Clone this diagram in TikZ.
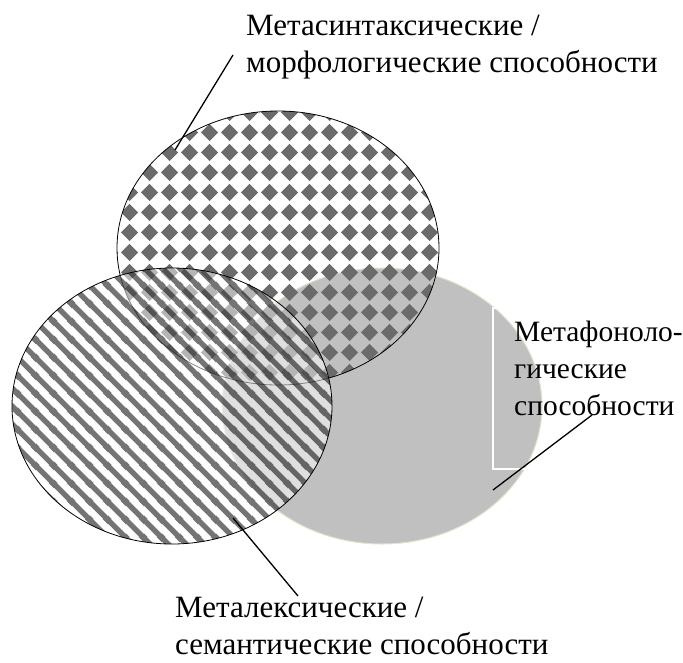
\documentclass[tikz,border=0pt]{standalone}
\usepackage{fontspec}
\setmainfont{Liberation Serif}
\usetikzlibrary{patterns.meta}

\definecolor{ovalgray}{HTML}{C0C0C0}
\definecolor{rimbeige}{HTML}{E6E2CE}
\definecolor{dotgray}{HTML}{6B6B6B}
\definecolor{stripegray}{HTML}{747474}

\tikzdeclarepattern{
  name=diamondgrid, type=uncolored,
  bounding box={(0pt,0pt) and (20pt,20pt)},
  tile size={(20pt,20pt)},
  code={\fill (10pt,1pt) -- (19pt,10pt) -- (10pt,19pt) -- (1pt,10pt) -- cycle;}
}
\tikzdeclarepattern{
  name=slantstripes, type=uncolored,
  bounding box={(0pt,0pt) and (18pt,18pt)},
  tile size={(18pt,18pt)},
  code={
    \draw[line width=5.5pt] (-3pt,21pt) -- (21pt,-3pt);
    \draw[line width=5.5pt] (-3pt,3pt) -- (3pt,-3pt);
    \draw[line width=5.5pt] (15pt,21pt) -- (21pt,15pt);
  }
}

\begin{document}
\begin{tikzpicture}[
    x=1pt, y=-1pt,
    oval/.style={x radius=160, y radius=138},
    ovalline/.style={draw=black, line width=0.8pt},
    leader/.style={line width=1.3pt},
    labeltext/.style={font=\rmfamily\fontsize{31}{36.5}\selectfont, align=left, inner sep=0pt, anchor=north west}
]
\useasboundingbox (0,0) rectangle (683,662);

% centres of the three ovals
\coordinate (phonC) at (382,406);
\coordinate (syntC) at (278,248);
\coordinate (lexC) at (172,406);

% phonological oval (plain grey)
\filldraw[fill=ovalgray, draw=rimbeige, line width=1pt] (phonC) ellipse [oval];

% syntactic oval (diamonds)
\fill[pattern=diamondgrid, pattern color=dotgray] (syntC) ellipse [x radius=161, y radius=137];
\draw[ovalline] (syntC) ellipse [x radius=161, y radius=137];

% lexical oval (stripes)
\fill[white, fill opacity=0.5] (lexC) ellipse [oval];
\fill[pattern=slantstripes, pattern color=stripegray, blend mode=multiply] (lexC) ellipse [oval];
\draw[ovalline] (lexC) ellipse [oval];

% labels
\draw[white, line width=1.5pt] (493,308) rectangle (720,469);
\node[labeltext, font=\rmfamily\fontsize{29.5}{37}\selectfont] (phonlabel) at (514,321) {Метафоноло-\\гические\\способности};
\node[labeltext] (syntlabel) at (246,15) {Метасинтаксические /\\морфологические способности};
\node[labeltext] (lexlabel) at (175,597) {Металексические /\\семантические способности};

% leader lines
\coordinate (syntTip) at (175,150);
\coordinate (syntEnd) at (233,55);
\coordinate (lexTip) at (233,518);
\coordinate (lexEnd) at (298,596);
\coordinate (phonTip) at (493,490);
\coordinate (phonEnd) at (592,415);
\draw[leader] (syntEnd) -- (syntTip);
\draw[leader] (lexTip) -- (lexEnd);
\draw[leader] (phonTip) -- (phonEnd);

\end{tikzpicture}
\end{document}
